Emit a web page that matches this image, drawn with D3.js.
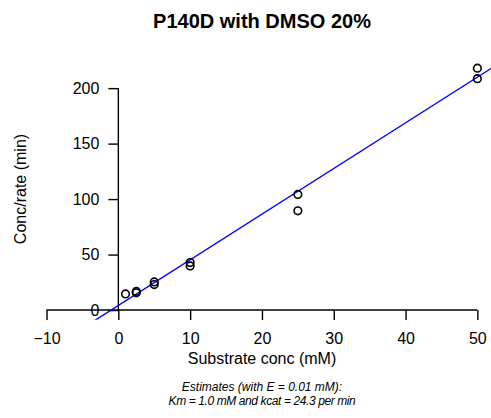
<!DOCTYPE html>
<html>
<head>
<meta charset="utf-8">
<script src="https://cdn.jsdelivr.net/npm/d3@7"></script>
<style>
  body { margin: 0; background: #fff; }
  svg { display: block; font-family: "Liberation Sans", Arial, sans-serif; }
</style>
</head>
<body>
<div id="chart"></div>
<script>
let width = 491;
let height = 418;

// substrate conc (mM) and conc/rate (min)
let substrate = [1, 2.5, 2.5, 5, 5, 10, 10, 25, 25, 50, 50];
let concRate = [14.5, 15.5, 16.8, 25.3, 23, 42.8, 39.8, 104.2, 89.4, 218, 208.5];

let xTicks = [-10, 0, 10, 20, 30, 40, 50];
let yTicks = [0, 50, 100, 150, 200];

// fit estimates
let enzyme = 0.01;
let km = 1.0;
let kcat = 24.3;

let slope = 1 / (kcat * enzyme);
let intercept = km / (kcat * enzyme);

// plot region (R style, 4% padding on each side)
let x = d3.scaleLinear()
    .domain([-12.4, 52.4])
    .range([29.3, 494.6]);

let y = d3.scaleLinear()
    .domain([-8.7, 226.7])
    .range([319.7, 58.5]);

let svg = d3.select("#chart")
    .append("svg")
    .attr("width", width)
    .attr("height", height);

svg.append("defs").append("clipPath")
    .attr("id", "plotclip")
    .append("rect")
    .attr("x", x.range()[0])
    .attr("y", y.range()[1])
    .attr("width", x.range()[1] - x.range()[0])
    .attr("height", y.range()[0] - y.range()[1]);

// x axis through y = 0
let xAxis = svg.append("g")
    .attr("transform", `translate(0,${y(0)})`)
    .call(d3.axisBottom(x).tickValues(xTicks).tickSize(10).tickPadding(12.6).tickSizeOuter(0)
        .tickFormat(d => d < 0 ? "\u2212" + Math.abs(d) : d));
xAxis.select(".domain").remove();
xAxis.append("line")
    .attr("x1", x(-10)).attr("x2", x(50))
    .attr("stroke", "#000");

// y axis through x = 0
let yAxis = svg.append("g")
    .attr("transform", `translate(${x(0)},0)`)
    .call(d3.axisLeft(y).tickValues(yTicks).tickSize(10).tickPadding(9).tickSizeOuter(0));
yAxis.select(".domain").remove();
yAxis.append("line")
    .attr("y1", y(0)).attr("y2", y(200))
    .attr("stroke", "#000");

svg.selectAll(".tick line").attr("stroke", "#000").attr("stroke-width", 1.4);
svg.selectAll("g > line").attr("stroke-width", 1.4);
svg.selectAll(".tick text")
    .attr("fill", "#000")
    .style("font-size", "16px")
    .style("font-family", "'Liberation Sans', Arial, sans-serif");

// fitted line, clipped to the plot region
svg.append("line")
    .attr("clip-path", "url(#plotclip)")
    .attr("x1", x(-12.4)).attr("y1", y(intercept + slope * -12.4))
    .attr("x2", x(52.4)).attr("y2", y(intercept + slope * 52.4))
    .attr("stroke", "#0000ff")
    .attr("stroke-width", 1.4);

// data points
svg.append("g")
    .selectAll("circle")
    .data(substrate)
    .join("circle")
    .attr("cx", d => x(d))
    .attr("cy", (d, i) => y(concRate[i]))
    .attr("r", 3.8)
    .attr("fill", "none")
    .attr("stroke", "#000")
    .attr("stroke-width", 1.6);

// title and labels
svg.append("text")
    .attr("x", 262).attr("y", 27.5)
    .attr("text-anchor", "middle")
    .style("font-size", "20px")
    .style("font-weight", "bold")
    .text("P140D with DMSO 20%");

svg.append("text")
    .attr("x", 262).attr("y", 364)
    .attr("text-anchor", "middle")
    .style("font-size", "16px")
    .text("Substrate conc (mM)");

svg.append("text")
    .attr("transform", "translate(26,189) rotate(-90)")
    .attr("text-anchor", "middle")
    .style("font-size", "16px")
    .text("Conc/rate (min)");

svg.append("text")
    .attr("x", 262).attr("y", 391)
    .attr("text-anchor", "middle")
    .style("font-size", "12px")
    .style("font-style", "italic")
    .text(`Estimates (with E = ${enzyme.toFixed(2)} mM):`);

svg.append("text")
    .attr("x", 262).attr("y", 405)
    .attr("text-anchor", "middle")
    .style("font-size", "12px")
    .style("font-style", "italic")
    .style("letter-spacing", "-0.4px")
    .text(`Km = ${km.toFixed(1)} mM and kcat = ${kcat.toFixed(1)} per min`);
</script>
</body>
</html>
